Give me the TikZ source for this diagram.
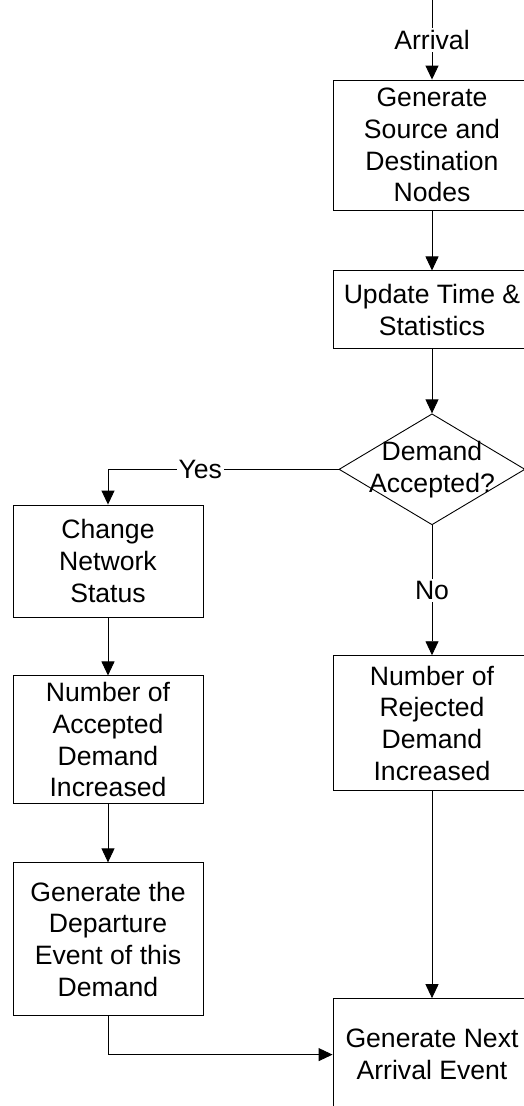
\documentclass[tikz,border=0pt]{standalone}
\usepackage{fontspec}
\setmainfont{Liberation Sans}
\usetikzlibrary{arrows.meta, positioning, shapes.geometric}
\tikzset{
  >={Triangle[width=13pt,length=14pt]},
  every node/.style={font=\fontsize{26.6pt}{31.7pt}\selectfont, align=center},
  box/.style={draw, inner sep=2pt, minimum width=190pt},
  widebox/.style={box, minimum width=198pt},
  decision/.style={draw, diamond, minimum width=186pt, minimum height=111pt, inner sep=0pt},
  flow/.style={->},
  tag/.style={fill=white, inner sep=2pt}
}

\begin{document}
\begin{tikzpicture}[x=1pt, y=-1pt, line width=0.9pt]
    \path[use as bounding box, clip] (0,0) rectangle (524,1106);

    \coordinate (in) at (432,0);
    \node[widebox, minimum height=130pt] (gen) at (432,145) {Generate\\Source and\\Destination\\Nodes};
    \node[widebox, minimum height=78pt] (upd) [below=60pt of gen] {Update Time \&\\Statistics};
    \node[decision] (dec) [below=64pt of upd] {};
    \node (dec-text) at (dec) {Demand\\Accepted?};
    \node[widebox, minimum height=135pt] (rej) [below=130pt of dec] {Number of\\Rejected\\Demand\\Increased};
    \node[widebox, minimum height=112pt] (nxt) [below=207pt of rej] {Generate Next\\Arrival Event};

    \node[box, minimum height=112pt] (chg) at (108,561) {Change\\Network\\Status};
    \node[box, minimum height=128pt] (acc) [below=58pt of chg] {Number of\\Accepted\\Demand\\Increased};
    \node[box, minimum height=153pt] (dep) [below=58pt of acc] {Generate the\\Departure\\Event of this\\Demand};

    \draw[flow] (in) -- node[tag] {Arrival} (gen);
    \draw[flow] (gen) -- (upd);
    \draw[flow] (upd) -- (dec);
    \draw[flow] (dec.west) -| node[tag, pos=0.3] {Yes} (chg.north);
    \draw[flow] (dec.south) -- node[tag] {No} (rej.north);
    \draw[flow] (chg) -- (acc);
    \draw[flow] (acc) -- (dep);
    \draw[flow] (rej) -- (nxt);
    \draw[flow] (dep.south) |- (nxt.west);
\end{tikzpicture}
\end{document}
